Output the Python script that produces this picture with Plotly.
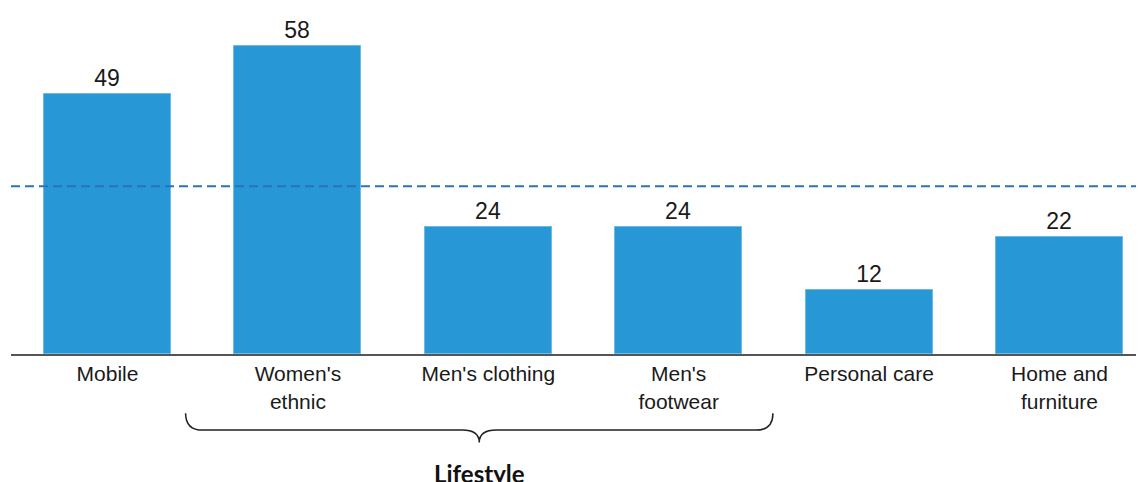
import plotly.graph_objs as go

categories = ["Mobile", "Women's<br>ethnic", "Men's clothing", "Men's<br>footwear",
              "Personal care", "Home and<br>furniture"]
values = [49, 58, 24, 24, 12, 22]
avg_value = 31.6
group_label = "Lifestyle"
group_span = [1, 3]   # Women's ethnic .. Men's footwear

bar_color = '#2897d5'
line_color = '#2a72bf'

pos = list(range(len(categories)))

trace = go.Bar(
    x=pos,
    y=values,
    width=0.667,
    marker=dict(color=bar_color, line=dict(width=1, color='#6bbbe6')),
    text=[str(v) for v in values],
    textposition='outside',
    textfont=dict(size=23, color='#1a1a1a', family='Liberation Sans, Arial'),
    cliponaxis=False,
    showlegend=False,
)

# curly brace under the lifestyle group
x0 = group_span[0] - 0.59
x1 = group_span[1] + 0.495
xc = (x0 + x1) / 2
r = 0.09
y_top, y_mid, y_tip = -0.171, -0.22, -0.256
brace = (f"M {x0},{y_top} Q {x0},{y_mid} {x0 + r},{y_mid} "
         f"L {xc - r},{y_mid} Q {xc},{y_mid} {xc},{y_tip} "
         f"Q {xc},{y_mid} {xc + r},{y_mid} "
         f"L {x1 - r},{y_mid} Q {x1},{y_mid} {x1},{y_top}")

# page body has an 8px margin, so the figure is drawn 8px smaller
layout = go.Layout(
    width=1136, height=474,
    margin=dict(l=3, r=0, t=0, b=128),
    plot_bgcolor='white',
    paper_bgcolor='white',
    bargap=0,
    font=dict(family='Liberation Sans, Arial', size=21, color='#1a1a1a'),
    xaxis=dict(
        range=[-0.507, 5.444],
        tickmode='array', tickvals=pos, ticktext=categories,
        showline=True, linecolor='#555555', linewidth=2,
        showgrid=False, zeroline=False, ticks='', automargin=False,
        tickfont=dict(size=21, color='#1a1a1a'),
    ),
    yaxis=dict(range=[0, 65.16], visible=False, showgrid=False, zeroline=False),
    shapes=[
        dict(type='line', xref='paper', yref='y', x0=0, x1=1, y0=avg_value, y1=avg_value,
             line=dict(color=line_color, width=2, dash='9px,5px')),
        dict(type='path', xref='x', yref='paper', path=brace,
             line=dict(color='#222222', width=1.5)),
    ],
    annotations=[
        dict(text=f"<b>{group_label}</b>", x=xc, xref='x', y=-0.298, yref='paper',
             showarrow=False, font=dict(size=24, family='Lato, Open Sans', color='#111111'),
             yanchor='top'),
    ],
)

fig = go.Figure(data=[trace], layout=layout)
fig.write_html("out.html")
